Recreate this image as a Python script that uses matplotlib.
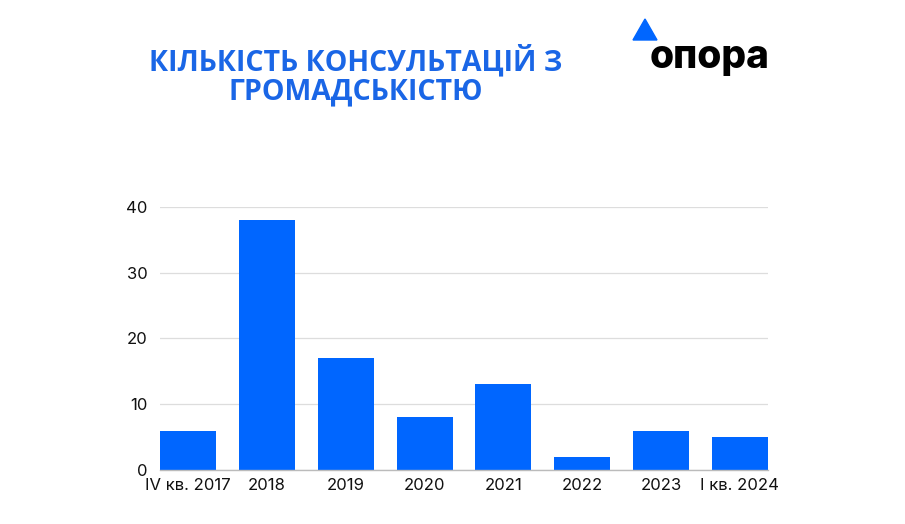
import matplotlib
matplotlib.use('Agg')
import matplotlib.pyplot as plt
import matplotlib.patches as mpatches
import numpy as np

# ── Data ──
periods = ['IV кв. 2017', '2018', '2019', '2020', '2021', '2022', '2023', 'І кв. 2024']
counts = [6, 38, 17, 8, 13, 2, 6, 5]
yticks = [0, 10, 20, 30, 40]

BLUE = '#0066FF'
TITLE_BLUE = '#1a66e6'

fig = plt.figure(figsize=(9.05, 5.24), dpi=100)
ax = fig.add_axes([0.1768, 0.1031, 0.6718, 0.502])

x = np.arange(len(periods))
ax.bar(x, counts, width=0.71, color=BLUE, zorder=3)

ax.set_xlim(-0.355, len(periods) - 1 + 0.355)
ax.set_ylim(0, 40)
ax.set_yticks(yticks)
ax.yaxis.grid(True, color='#dddddd', linewidth=0.9, zorder=0)
ax.set_axisbelow(True)

for s in ['top', 'right', 'left']:
    ax.spines[s].set_visible(False)
ax.spines['bottom'].set_color('#bbbbbb')
ax.spines['bottom'].set_linewidth(1.0)
ax.spines['bottom'].set_zorder(4)

ax.set_xticks(x)
ax.set_xticklabels(periods, fontsize=12, family='Inter', color='#111111')
ax.tick_params(axis='x', length=0, pad=6)
ax.tick_params(axis='y', length=0, pad=9, labelsize=12, labelcolor='#111111')
for lbl in ax.get_yticklabels():
    lbl.set_family('Inter')

# title
fig.text(0.393, 0.855, 'КІЛЬКІСТЬ КОНСУЛЬТАЦІЙ З\nГРОМАДСЬКІСТЮ',
         ha='center', va='center', fontsize=20.5, fontweight='bold',
         family='Open Sans', color=TITLE_BLUE, linespacing=1.0)

# logo
tri = mpatches.Polygon([(633 / 905, 1 - 40 / 524), (657 / 905, 1 - 40 / 524),
                        (645 / 905, 1 - 19 / 524)],
                       closed=True, transform=fig.transFigure,
                       color=BLUE, zorder=5)
fig.patches.append(tri)
fig.text(650 / 905, 1 - 58 / 524, 'опора', ha='left', va='center',
         fontsize=28, fontweight='heavy', family='Inter', color='black')

fig.savefig('out.png', dpi=100)
plt.close(fig)
